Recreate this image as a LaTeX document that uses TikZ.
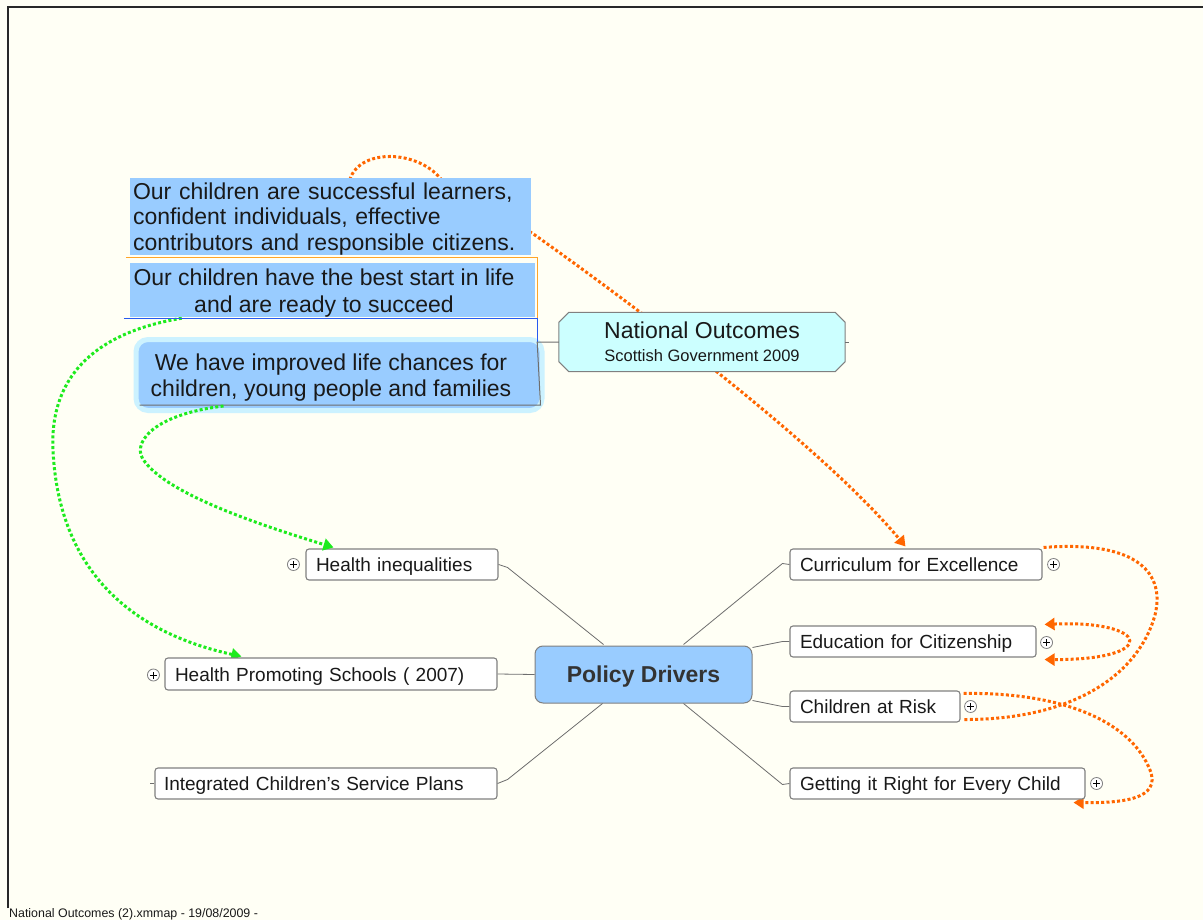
\documentclass[tikz,border=0pt]{standalone}
\usepackage{fontspec}
\setmainfont{Liberation Sans}
\usetikzlibrary{arrows.meta,calc}
\pgfdeclarelayer{back}
\pgfdeclarelayer{mid}
\pgfdeclarelayer{fore}
\pgfsetlayers{back,mid,fore,main}
\definecolor{bgc}{RGB}{255,255,245}
\definecolor{framec}{RGB}{40,40,40}
\definecolor{bluef}{RGB}{153,204,255}
\definecolor{glowc}{RGB}{204,242,255}
\definecolor{cyanf}{RGB}{204,255,255}
\definecolor{nodeg}{RGB}{128,128,128}
\definecolor{lineg}{RGB}{110,110,110}
\definecolor{orangec}{RGB}{255,102,0}
\definecolor{greenc}{RGB}{30,235,30}
\definecolor{txt}{RGB}{25,25,25}
\definecolor{pdtext}{RGB}{51,51,51}
\definecolor{selorange}{RGB}{255,165,40}
\definecolor{selblue}{RGB}{40,90,240}
\begin{document}
\begin{tikzpicture}[x=1pt,y=-1pt,
  topicbox/.style={draw=nodeg, fill=white, rounded corners=3pt, line width=1.1pt,
    minimum height=31pt, inner xsep=10pt, inner ysep=0pt, align=left, text=txt,
    text height=14pt, text depth=0pt, font=\fontsize{19}{22}\selectfont},
  conn/.style={draw=lineg, line width=0.8pt},
  rel/.style={line width=3pt, dash pattern=on 3pt off 2.3pt},
  rtip/.tip={Triangle[length=10pt,width=12pt]},
  plusicon/.style={circle, draw=nodeg, fill=white, line width=0.8pt, minimum size=12pt, inner sep=0pt,
    path picture={\draw[line width=1pt,black]
      ([xshift=-3.5pt]path picture bounding box.center) -- ([xshift=3.5pt]path picture bounding box.center)
      ([yshift=-3.5pt]path picture bounding box.center) -- ([yshift=3.5pt]path picture bounding box.center);}}
]
\useasboundingbox (0,0) rectangle (1203,920);
\begin{pgfonlayer}{back}
  \fill[bgc] (0,0) rectangle (1203,920);
\end{pgfonlayer}
\draw[framec, line width=2pt] (8,908) -- (8,7) -- (1203,7);

% text boxes
\node[fill=bluef, minimum width=401pt, minimum height=77pt, inner sep=0pt] (b1) at (330.5,216.5) {};
\node[text width=397pt, inner sep=0pt, align=left, text=txt, font=\fontsize{23}{25.5}\selectfont] (b1t) at (331.5,219)
  {Our children are successful learners,\\confident individuals, effective\\contributors and responsible citizens.};
\node[fill=bluef, minimum width=405pt, minimum height=54pt, inner sep=0pt] (b2) at (332.5,290) {};
\node[align=center, text=txt, font=\fontsize{23}{26.5}\selectfont] (b2t) at (324,293)
  {Our children have the best start in life\\and are ready to succeed};
\node[fill=bluef, draw=glowc, line width=5pt, rounded corners=12pt, minimum width=406pt, minimum height=71pt] (b3) at (339,375) {};
\node[align=center, text=txt, font=\fontsize{23}{26}\selectfont] (b3t) at (331,378)
  {We have improved life chances for\\children, young people and families};

% national outcomes
\node[minimum width=286pt, minimum height=59pt, inner sep=0pt, align=center, text=txt,
  font=\fontsize{23}{23}\selectfont] (no) at (702,342)
  {National Outcomes\\[0pt]{\fontsize{16.5}{23}\selectfont Scottish Government 2009}};
\begin{pgfonlayer}{fore}
\draw[draw=nodeg, fill=cyanf, line width=1pt]
  ($(no.north west)+(10,0)$) -- ($(no.north east)+(-10,0)$) -- ($(no.north east)+(0,10)$)
  -- ($(no.south east)+(0,-10)$) -- ($(no.south east)+(-10,0)$) -- ($(no.south west)+(10,0)$)
  -- ($(no.south west)+(0,-10)$) -- ($(no.north west)+(0,10)$) -- cycle;
\end{pgfonlayer}
\draw[conn] (no.east) -- ++(4,0);

% selection frames / branch lines
\draw[selorange, line width=1.4pt] ($(b2.north west)+(-4,-5)$) -- ($(b2.north east)+(2,-5)$) -- ($(b2.south east)+(2,1)$);
\draw[selblue, line width=1.2pt] ($(b2.south west)+(-6,1)$) -- ($(b2.south east)+(2,1)$) -- ($(b2.south east)+(2,25)$);
\draw[conn, line width=1pt] ($(b3.south west)+(6,-8)$) -- ($(b3.south east)+(-4,-8)$) -- ($(b2.south east)+(2,25)$) -- (no.west);

% central topic
\node[fill=bluef, draw=nodeg, line width=1pt, rounded corners=8pt, minimum width=217pt, minimum height=57pt,
  text height=16pt, text depth=0pt, inner sep=0pt,
  text=pdtext, font=\bfseries\fontsize{23}{26}\selectfont] (pd) at (643.5,674.5) {Policy Drivers};

% subtopics
\node[topicbox, text width=232pt] (cfe) at (916,564.5) {Curriculum for Excellence};
\node[topicbox, text width=226pt] (edu) at (913,641.5) {Education for Citizenship};
\node[topicbox, text width=150pt] (car) at (875,706.5) {Children at Risk};
\node[topicbox, text width=275pt] (gir) at (937.5,783.5) {Getting it Right for Every Child};
\node[topicbox, text width=172pt] (hi) at (402,564.5) {Health inequalities};
\node[topicbox, text width=312pt, minimum height=32pt] (hps) at (331,674) {Health Promoting Schools ( 2007)};
\node[topicbox, inner xsep=9pt, text width=324pt] (icsp) at (326,783.5) {Integrated Children's Service Plans};
\draw[conn] (icsp.west) -- ++(-4,0);

% plus icons
\node[plusicon] (pcfe) at ($(cfe.east)+(11,0)$) {};
\node[plusicon] (pedu) at ($(edu.east)+(10,1)$) {};
\node[plusicon] (pcar) at ($(car.east)+(10,0)$) {};
\node[plusicon] (pgir) at ($(gir.east)+(11,0)$) {};
\node[plusicon] (phi) at ($(hi.west)+(-12,0)$) {};
\node[plusicon] (phps) at ($(hps.west)+(-11,1)$) {};

% connectors from central topic
\draw[conn] ($(pd.north west)+(69,-1)$) -- ($(hi.east)+(9,3)$) -- (hi.east);
\draw[conn] (pd.west) -- (hps.east);
\draw[conn] ($(pd.south west)+(68,0)$) -- ($(icsp.east)+(10,-4)$) -- (icsp.east);
\draw[conn] ($(pd.north east)+(-69,-1)$) -- ($(cfe.west)+(-7,-1)$) -- (cfe.west);
\draw[conn] ($(pd.north east)+(0,2)$) -- ($(edu.west)+(-7,0)$) -- (edu.west);
\draw[conn] ($(pd.south east)+(0,-3)$) -- ($(car.west)+(-7,0)$) -- (car.west);
\draw[conn] ($(pd.south east)+(-69,0)$) -- ($(gir.west)+(-7,1)$) -- (gir.west);

% relationships
\begin{pgfonlayer}{mid}
\draw[rel, orangec, -{rtip}] ($(b1.north west)+(220,2)$) .. controls (360,146) and (425,150) .. (445,185)
   .. controls (470,215) and (500,215) .. (532,233)
   .. controls (652,318) and (827,452) .. ($(cfe.north west)+(116,-2)$);
\draw[rel, greenc, -{rtip}] ($(b2.south west)+(52,1)$) .. controls (80,335) and (50,390) .. (53,450)
   .. controls (58,560) and (120,630) .. ($(hps.north west)+(77,-1)$);
\draw[rel, orangec] ($(cfe.north east)+(1,-1)$) .. controls (1140,540) and (1165,575) .. (1155,615)
   .. controls (1140,670) and (1080,720) .. ($(car.south east)+(2,-3)$);
\draw[rel, orangec, {rtip}-{rtip}] ($(edu.north east)+(8,-1)$) .. controls (1150,620) and (1160,660) .. ($(edu.south east)+(8,2)$);
\draw[rel, orangec, -{rtip}] ($(car.north east)+(3,3)$) .. controls (1060,692) and (1130,720) .. (1150,770)
   .. controls (1162,800) and (1120,803) .. ($(gir.south east)+(-12,3)$);
\end{pgfonlayer}
\draw[rel, greenc, -{rtip}] ($(b3.south west)+(90,-7)$) .. controls (150,415) and (130,445) .. (145,462)
   .. controls (170,495) and (260,525) .. ($(hi.north west)+(28,-1)$);

% footer
\node[anchor=base west, text=txt, font=\fontsize{12.4}{14}\selectfont, inner sep=0pt] (foot) at (9,917)
  {National Outcomes (2).xmmap - 19/08/2009 -};
\end{tikzpicture}
\end{document}
